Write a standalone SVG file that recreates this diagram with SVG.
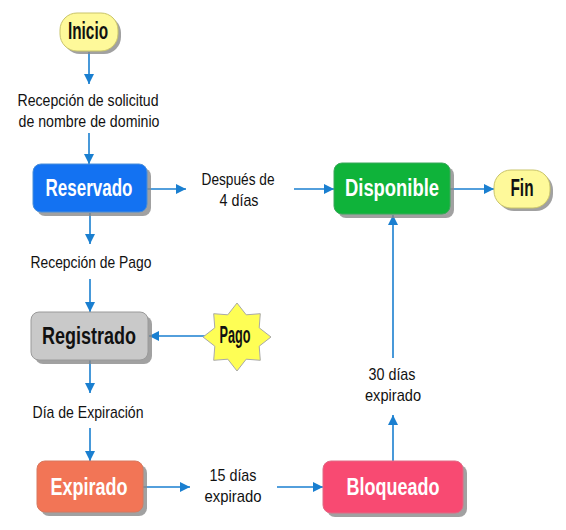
<svg xmlns="http://www.w3.org/2000/svg" width="566" height="530" viewBox="0 0 566 530">
<style>
.lbl{font-family:"Liberation Sans","DejaVu Sans",sans-serif;font-size:17px;fill:#111;text-anchor:middle}
.nt{font-family:"Liberation Sans","DejaVu Sans",sans-serif;font-weight:bold;font-size:23px;text-anchor:middle}
.w{fill:#fff}
.k{fill:#111}
.shadow{fill:#8a8a8a;opacity:0.8}
.edge{stroke:#1a7fd0;stroke-width:1.6;fill:none}
</style>
<defs>
<marker id="ah" viewBox="0 0 10 10" refX="10" refY="5" markerWidth="10" markerHeight="10" markerUnits="userSpaceOnUse" orient="auto">
<path d="M0,0 L10,5 L0,10 z" fill="#1a7fd0"/>
</marker>
</defs>
<g id="connectors">
<line class="edge" x1="89" y1="52" x2="89" y2="84" marker-end="url(#ah)"/>
<line class="edge" x1="89" y1="133" x2="89" y2="164" marker-end="url(#ah)"/>
<line class="edge" x1="90" y1="213" x2="90" y2="244" marker-end="url(#ah)"/>
<line class="edge" x1="90" y1="279" x2="90" y2="312" marker-end="url(#ah)"/>
<line class="edge" x1="90" y1="360" x2="90" y2="393" marker-end="url(#ah)"/>
<line class="edge" x1="90" y1="428" x2="90" y2="461" marker-end="url(#ah)"/>
<line class="edge" x1="147" y1="189" x2="186" y2="189" marker-end="url(#ah)"/>
<line class="edge" x1="294" y1="189" x2="334" y2="189" marker-end="url(#ah)"/>
<line class="edge" x1="450" y1="189" x2="494" y2="189" marker-end="url(#ah)"/>
<line class="edge" x1="206" y1="336" x2="149" y2="336" marker-end="url(#ah)"/>
<line class="edge" x1="143" y1="487" x2="190" y2="487" marker-end="url(#ah)"/>
<line class="edge" x1="277" y1="487" x2="323" y2="487" marker-end="url(#ah)"/>
<line class="edge" x1="393" y1="461" x2="393" y2="415" marker-end="url(#ah)"/>
<line class="edge" x1="393" y1="358" x2="393" y2="215" marker-end="url(#ah)"/>
</g>
<g id="labels">
<text class="lbl" x="88" y="106" textLength="141" lengthAdjust="spacingAndGlyphs">Recepción de solicitud</text>
<text class="lbl" x="89" y="127" textLength="141" lengthAdjust="spacingAndGlyphs">de nombre de dominio</text>
<text class="lbl" x="238" y="185" textLength="73" lengthAdjust="spacingAndGlyphs">Después de</text>
<text class="lbl" x="239" y="206" textLength="39" lengthAdjust="spacingAndGlyphs">4 días</text>
<text class="lbl" x="91" y="268" textLength="121" lengthAdjust="spacingAndGlyphs">Recepción de Pago</text>
<text class="lbl" x="88" y="418" textLength="111" lengthAdjust="spacingAndGlyphs">Día de Expiración</text>
<text class="lbl" x="233" y="481" textLength="47" lengthAdjust="spacingAndGlyphs">15 días</text>
<text class="lbl" x="233" y="502" textLength="57" lengthAdjust="spacingAndGlyphs">expirado</text>
<text class="lbl" x="392" y="380" textLength="47" lengthAdjust="spacingAndGlyphs">30 días</text>
<text class="lbl" x="393" y="401" textLength="56" lengthAdjust="spacingAndGlyphs">expirado</text>
</g>
<g id="inicio">
<rect class="shadow" x="63" y="16" width="58" height="38" rx="17"/>
<rect x="60" y="13" width="58" height="38" rx="17" fill="#fef99a" stroke="#c9c46a" stroke-width="1"/>
<text class="nt k" x="88" y="39" font-size="18" textLength="40" lengthAdjust="spacingAndGlyphs">Inicio</text>
</g>
<g id="reservado">
<rect class="shadow" x="37" y="168" width="114" height="48" rx="8"/>
<rect x="33" y="164" width="114" height="48" rx="8" fill="#1372f2" stroke="#4a8ed8" stroke-width="1"/>
<text class="nt w" x="89" y="196" textLength="87" lengthAdjust="spacingAndGlyphs">Reservado</text>
</g>
<g id="disponible">
<rect class="shadow" x="338" y="167" width="116" height="51" rx="8"/>
<rect x="334" y="163" width="116" height="51" rx="8" fill="#0fb33a" stroke="#3aa85a" stroke-width="1"/>
<text class="nt w" x="392" y="196" textLength="94" lengthAdjust="spacingAndGlyphs">Disponible</text>
</g>
<g id="fin">
<rect class="shadow" x="497" y="173" width="56" height="38" rx="17"/>
<rect x="494" y="170" width="56" height="38" rx="17" fill="#fef99a" stroke="#c9c46a" stroke-width="1"/>
<text class="nt k" x="522" y="196" font-size="18" textLength="23" lengthAdjust="spacingAndGlyphs">Fin</text>
</g>
<g id="registrado">
<rect class="shadow" x="35" y="316" width="117" height="48" rx="8"/>
<rect x="31" y="312" width="117" height="48" rx="8" fill="#c9c9c9" stroke="#9a9a9a" stroke-width="1"/>
<text class="nt k" x="89" y="344" textLength="94" lengthAdjust="spacingAndGlyphs">Registrado</text>
</g>
<g id="pago">
<polygon points="237.0,303.0 246.2,314.8 260.3,313.7 259.2,327.8 271.0,337.0 259.2,346.2 260.3,360.3 246.2,359.2 237.0,371.0 227.8,359.2 213.7,360.3 214.8,346.2 203.0,337.0 214.8,327.8 213.7,313.7 227.8,314.8" fill="#fefe55" stroke="#a9a9a9" stroke-width="1"/>
<text class="nt k" x="235" y="343" font-size="18" textLength="31" lengthAdjust="spacingAndGlyphs">Pago</text>
</g>
<g id="expirado">
<rect class="shadow" x="41" y="465" width="106" height="51" rx="8"/>
<rect x="37" y="461" width="106" height="51" rx="8" fill="#f27556" stroke="#d8785e" stroke-width="1"/>
<text class="nt w" x="89" y="495" textLength="77" lengthAdjust="spacingAndGlyphs">Expirado</text>
</g>
<g id="bloqueado">
<rect class="shadow" x="327" y="465" width="140" height="52" rx="8"/>
<rect x="323" y="461" width="140" height="52" rx="8" fill="#f84a72" stroke="#e06a85" stroke-width="1"/>
<text class="nt w" x="393" y="495" textLength="93" lengthAdjust="spacingAndGlyphs">Bloqueado</text>
</g>
</svg>
